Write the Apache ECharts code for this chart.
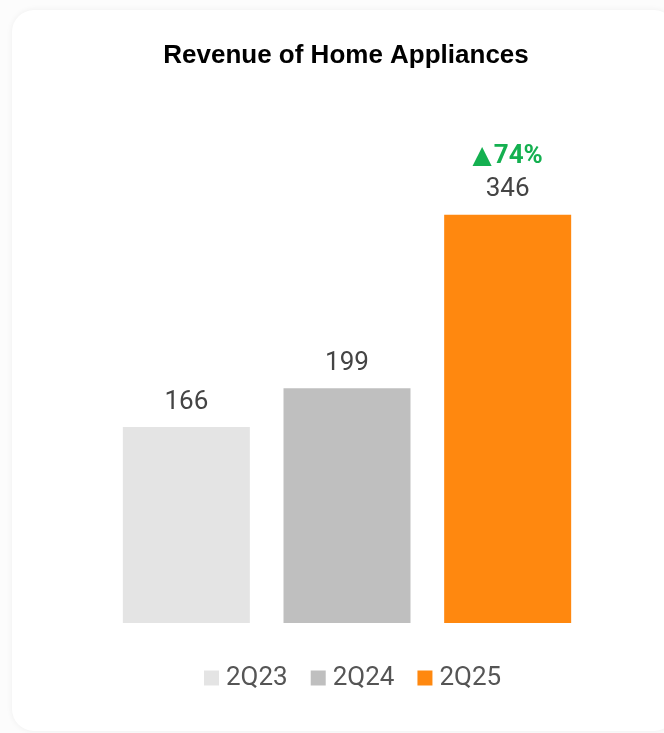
<!DOCTYPE html>
<html>
<head>
<meta charset="utf-8">
<script src="https://cdn.jsdelivr.net/npm/echarts@6/dist/echarts.min.js"></script>
<style>
  html, body { margin: 0; padding: 0; width: 664px; height: 733px; overflow: hidden; background: #fcfcfc; }
  #card {
    position: absolute; left: 12px; top: 10px; width: 664px; height: 721px;
    background: #ffffff; border-radius: 22px;
    box-shadow: 0 0 6px rgba(0, 0, 0, 0.06);
  }
  #chart { position: absolute; left: 0; top: 0; width: 692px; height: 733px; }
</style>
</head>
<body>
<div id="card"></div>
<div id="chart"></div>
<script>
// Quarterly revenue of the home appliances business
const quarters = ['2Q23', '2Q24', '2Q25'];
const revenue = [166, 199, 346];
const barColors = ['#e4e4e4', '#bfbfbf', '#ff880f'];

// Year-over-year growth of the latest quarter
const growthPct = Math.round((revenue[2] / revenue[1] - 1) * 100);

const chart = echarts.init(document.getElementById('chart'));

const series = quarters.map((q, i) => ({
  name: q,
  type: 'bar',
  stack: 'rev',
  barWidth: 127,
  itemStyle: { color: barColors[i] },
  data: quarters.map((_, j) => (j === i ? revenue[i] : '-')),
  label: {
    show: true,
    position: 'top',
    distance: 10,
    fontFamily: 'Roboto',
    fontSize: 26,
    color: '#444444',
    formatter: i === quarters.length - 1
      ? '{tri|▲}{up|' + growthPct + '%}\n{val|' + revenue[i] + '}'
      : '{val|' + revenue[i] + '}',
    rich: {
      tri: { fontFamily: 'DejaVu Sans', fontSize: 25, color: '#14b050', lineHeight: 36, padding: [0, 2, 0, 0] },
      up: { fontFamily: 'Roboto', fontSize: 26, fontWeight: 'bold', color: '#14b050', lineHeight: 36 },
      val: { fontFamily: 'Roboto', fontSize: 26, color: '#444444', lineHeight: 30 }
    }
  },
  emphasis: { disabled: true }
}));

chart.setOption({
  animation: false,
  title: {
    text: 'Revenue of Home Appliances',
    left: 'center',
    top: 38,
    textStyle: { fontFamily: 'Liberation Sans', fontSize: 26, fontWeight: 'bold', color: '#000000' }
  },
  legend: {
    data: quarters,
    left: 199,
    top: 660,
    icon: 'rect',
    itemWidth: 15,
    itemHeight: 15,
    itemGap: 23,
    textStyle: { fontFamily: 'Roboto', fontSize: 26, color: '#555555', padding: [0, 0, 0, 2] },
    selectedMode: false
  },
  grid: { left: 106, right: 104, top: 151, height: 472 },
  xAxis: {
    type: 'category',
    data: quarters,
    show: false
  },
  yAxis: {
    type: 'value',
    min: 0,
    max: 400,
    show: false
  },
  series: series
});
</script>
</body>
</html>
